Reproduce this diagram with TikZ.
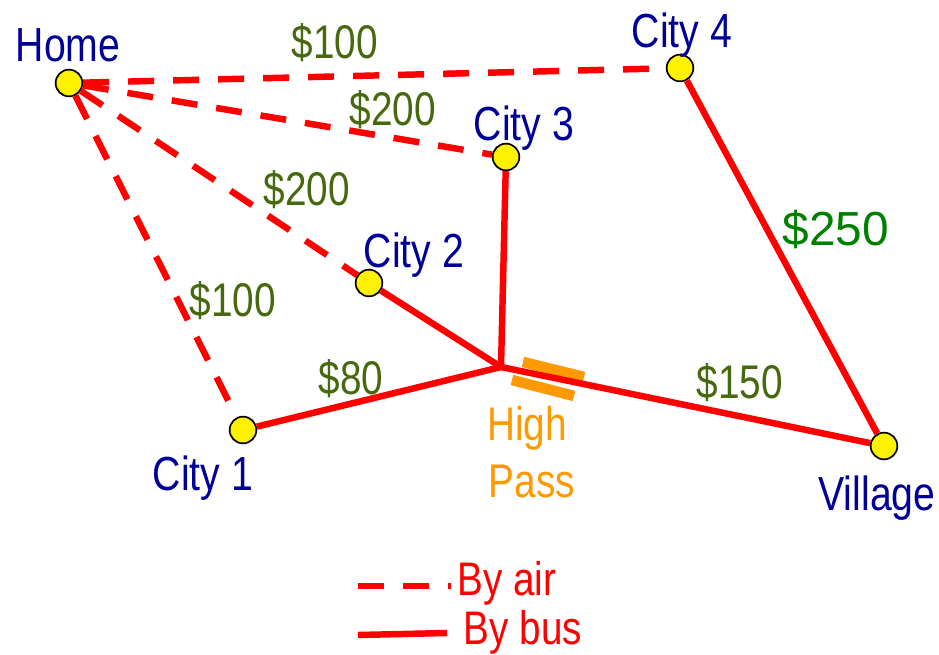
\documentclass[tikz,border=0pt]{standalone}
\usepackage{fontspec}
\usepackage{xcolor}
\setmainfont[FakeStretch=0.82]{Liberation Sans}
\newfontfamily\widefont{Liberation Sans}
\usetikzlibrary{arrows.meta,positioning,calc}
\definecolor{placeblue}{RGB}{0,0,153}
\definecolor{priceolive}{RGB}{70,105,15}
\definecolor{pricegreen}{RGB}{0,128,0}
\definecolor{passorange}{RGB}{255,153,0}

\begin{document}
\begin{tikzpicture}[
  x=0.025cm, y=-0.025cm,
  town/.style={circle, draw=black, line width=1.2pt, fill=yellow, minimum size=19pt, inner sep=0pt},
  place/.style={font=\fontsize{34}{36}\selectfont, text=placeblue, inner sep=0pt},
  price/.style={font=\fontsize{33.6}{36}\selectfont, text=priceolive, inner sep=0pt},
  air/.style={red, line width=4.6pt, dash pattern=on 18.5pt off 13.5pt},
  bus/.style={red, line width=4.6pt},
  pass/.style={passorange, line width=7.5pt},
  passtxt/.style={font=\fontsize{33.6}{36}\selectfont, text=passorange, inner sep=0pt},
  legend/.style={font=\fontsize{33.5}{36}\selectfont, text=red, inner sep=0pt}
]
  \useasboundingbox (0,0) rectangle (939,655);

  \coordinate (high) at (501,367);
  \coordinate (passa) at (523,362);
  \coordinate (passb) at (584,377);
  \coordinate (passc) at (512,380);
  \coordinate (passd) at (574,396);
  \coordinate (aira) at (358,586);
  \coordinate (airb) at (451,586);
  \coordinate (busa) at (358,635);
  \coordinate (busb) at (447,633);

  % towns
  \node[town] (home)    at (69,83)   {};
  \node[town] (city4)   at (680,68)  {};
  \node[town] (city3)   at (506,157) {};
  \node[town] (city2)   at (369,283) {};
  \node[town] (city1)   at (243,430) {};
  \node[town] (village) at (884,446) {};

  \node[place] (homelbl)    at (68,45)   {Home};
  \node[place] (city4lbl)   at (682,35)  {City 4};
  \node[place] (city3lbl)   at (524,128) {City 3};
  \node[place] (city2lbl)   at (414,255) {City 2};
  \node[place] (city1lbl)   at (203,478) {City 1};
  \node[place] (villagelbl) at (877,498) {Village};

  % by air
  \draw[air] (home) -- (city4);
  \draw[air] (home) -- (city3);
  \draw[air] (home) -- (city2);
  \draw[air] (home) -- (city1);

  % by bus
  \draw[pass] (passa) -- (passb);
  \draw[pass] (passc) -- (passd);
  \draw[bus] (city1) -- (high);
  \draw[bus] (city2) -- (high);
  \draw[bus] (city3) -- (high);
  \draw[bus] (high) -- (village);
  \draw[bus] (city4) -- (village);

  \node[price] (p1) at (335,43)  {\$100};
  \node[price] (p2) at (393,110) {\$200};
  \node[price] (p3) at (307,190) {\$200};
  \node[price] (p4) at (233,301) {\$100};
  \node[price] (p5) at (351,379) {\$80};
  \node[price] (p6) at (740,383) {\$150};
  \node[font=\widefont\fontsize{34}{36}\selectfont, text=pricegreen, inner sep=0pt] (p7) at (836,229) {\$250};

  \node[passtxt] (hightxt) at (527,428) {High};
  \node[passtxt] (passtxt) at (532,481) {Pass};

  % legend
  \draw[air] (aira) -- (airb);
  \draw[bus] (busa) -- (busb);
  \node[legend] (airlbl) at (507,583) {By air};
  \node[legend] (buslbl) at (523,632) {By bus};
\end{tikzpicture}
\end{document}
